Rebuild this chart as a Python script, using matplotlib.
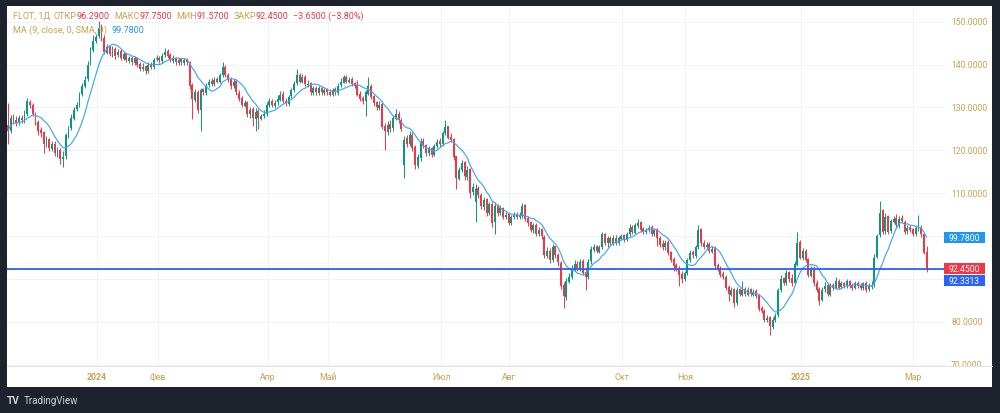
import matplotlib
matplotlib.use('Agg')
import matplotlib.pyplot as plt
import numpy as np
import pandas as pd
from matplotlib.patches import Rectangle
from matplotlib.lines import Line2D
from matplotlib.transforms import blended_transform_factory

plt.rcParams['font.family'] = ['Roboto', 'DejaVu Sans']

# ---------------- data (daily candles) ----------------
OPEN = [
 126.0,124.5,127.8,127.2,126.4,127.6,127.0,128.4,131.2,130.6,
 128.6,126.6,124.8,124.2,121.4,122.6,120.4,121.6,119.4,120.2,
 118.0,118.6,123.4,125.2,127.4,129.6,130.6,133.2,135.0,136.6,
 140.2,143.4,145.6,146.6,148.6,146.2,142.8,144.2,142.4,143.6,
 142.2,143.2,141.4,142.6,140.8,141.6,140.4,141.6,140.2,139.0,
 139.6,138.4,140.2,139.4,141.2,141.6,140.8,142.2,143.2,142.2,
 140.8,141.6,140.4,141.2,140.4,141.2,140.6,135.2,131.8,133.6,
 129.4,134.2,133.4,135.2,136.2,135.4,136.6,136.0,137.6,139.4,
 137.6,136.6,135.0,136.2,133.4,132.2,130.4,131.2,128.4,129.6,
 127.4,129.2,127.4,128.0,128.4,130.6,131.6,130.4,131.2,131.8,
 133.2,131.6,130.8,132.6,134.0,135.6,137.6,136.0,137.2,135.2,
 135.6,133.4,134.6,133.4,134.6,133.4,134.2,133.6,132.8,134.2,
 133.4,135.2,135.8,137.2,136.0,136.6,135.6,135.2,133.2,132.2,
 131.4,133.2,135.0,132.6,131.2,129.8,130.8,125.8,124.4,126.2,
 125.2,127.4,128.6,127.2,116.5,122.8,121.4,123.6,120.8,116.4,
 118.2,122.2,121.2,119.4,120.6,119.0,121.0,122.2,121.4,124.0,
 125.6,123.2,122.6,118.6,113.4,115.4,117.2,113.8,115.6,110.2,
 108.0,111.2,109.6,106.8,108.6,105.4,107.6,103.2,107.2,105.4,
 106.6,104.4,105.2,103.0,104.4,105.2,104.4,104.6,107.2,104.2,
 103.2,101.4,102.6,100.4,101.6,99.8,95.4,96.6,94.4,97.6,
 95.6,93.8,88.6,85.8,89.4,90.6,92.4,93.6,92.4,94.2,
 91.6,90.4,94.2,96.8,97.6,96.4,97.4,100.6,98.4,99.6,
 98.4,99.6,98.4,99.4,100.2,99.0,100.4,102.2,100.8,102.4,
 103.2,101.6,101.0,101.4,102.2,100.4,101.6,99.6,98.2,97.4,
 98.6,96.2,94.6,93.2,92.4,91.2,90.0,91.4,94.4,96.2,
 95.4,97.4,101.6,98.4,97.4,98.2,96.4,97.2,93.2,92.6,
 91.2,90.6,88.2,86.4,87.6,84.4,87.6,86.4,87.6,86.4,
 87.6,86.4,87.2,86.2,83.2,82.6,80.4,81.2,78.8,80.4,
 81.6,87.4,90.2,89.0,91.6,90.2,89.2,93.4,98.6,94.8,
 96.6,94.6,90.8,92.6,89.2,87.8,85.2,87.6,88.6,86.4,
 88.6,88.0,89.6,88.2,89.0,88.4,89.6,88.6,88.0,89.2,
 88.6,88.0,89.2,87.6,88.2,88.6,95.2,100.2,106.0,101.2,
 104.6,101.2,103.4,104.2,102.4,104.2,103.4,101.2,102.2,101.6,
 100.4,101.8,102.2,100.4,96.29]
HIGH = [
 131.0,128.2,128.6,128.0,128.3,128.2,129.5,132.2,131.8,131.0,
 129.0,127.2,125.5,124.6,123.3,123.0,122.3,122.2,120.8,120.6,
 119.8,124.0,125.8,128.4,130.0,131.2,133.6,135.8,137.4,140.8,
 144.2,146.8,147.2,150.2,149.5,146.8,144.8,144.6,144.4,144.0,
 143.6,143.6,143.0,142.8,142.0,142.0,142.0,141.8,140.6,140.4,
 140.0,140.6,140.6,141.6,142.2,142.0,142.6,143.8,143.6,142.6,
 142.2,141.8,141.6,141.6,141.6,141.6,140.8,135.6,134.4,134.0,
 134.6,134.6,135.6,136.6,136.8,137.0,137.2,138.0,140.6,139.8,
 138.0,137.0,136.6,136.6,134.0,132.6,131.8,131.6,130.2,130.0,
 129.8,129.6,128.6,129.4,131.2,132.2,132.0,131.8,132.8,133.8,
 133.8,132.2,133.0,134.6,136.2,139.0,138.0,137.8,137.6,136.4,
 136.0,135.0,135.0,135.0,135.0,134.6,134.6,134.2,134.6,134.8,
 135.6,136.8,137.6,137.6,137.0,137.0,136.0,136.5,133.8,132.6,
 134.0,137.0,135.4,133.0,131.6,131.4,131.4,126.4,126.8,127.0,
 128.2,129.6,129.2,127.6,123.4,123.6,124.6,124.2,121.2,119.2,
 123.0,122.8,121.6,121.0,120.8,121.6,122.6,123.0,124.6,127.0,
 125.8,124.0,123.0,118.8,116.2,117.8,117.6,116.4,116.0,112.4,
 112.2,111.6,110.0,109.2,108.8,108.0,108.0,108.0,107.6,107.2,
 106.8,105.6,105.6,105.0,105.6,105.6,105.6,107.8,107.6,104.6,
 103.6,103.0,103.0,102.2,101.8,100.2,97.4,97.2,98.2,97.8,
 96.0,94.2,89.4,90.2,91.4,93.4,94.4,94.2,94.6,94.6,
 92.4,94.6,97.6,98.2,98.0,98.0,101.0,100.8,100.0,100.0,
 100.2,100.2,100.0,100.6,100.6,101.0,102.8,102.6,103.0,104.0,
 103.6,102.2,102.0,102.6,102.6,102.0,102.0,100.0,99.0,99.2,
 99.0,96.6,95.2,93.8,93.0,91.8,92.0,95.0,96.8,96.8,
 98.0,102.5,101.8,99.0,98.6,98.6,97.8,97.6,93.8,93.0,
 92.0,91.0,88.6,88.2,88.0,88.2,88.0,89.6,88.2,88.2,
 88.0,87.6,87.6,86.4,83.8,83.0,81.6,81.4,81.2,82.0,
 88.0,91.0,90.6,92.2,92.0,91.2,94.2,101.0,99.2,97.2,
 97.0,95.0,93.0,93.0,89.8,88.2,88.2,89.4,89.2,89.0,
 89.2,90.6,90.0,89.6,89.4,90.0,89.8,89.2,89.6,89.6,
 89.0,89.4,89.6,89.0,89.6,95.8,100.6,108.2,106.4,105.4,
 105.0,104.0,104.6,105.2,104.6,105.0,103.8,102.6,102.6,102.0,
 102.6,105.0,102.6,100.8,97.75]
LOW = [
 121.5,124.0,126.2,125.8,125.9,126.3,126.5,128.0,129.8,128.0,
 126.0,123.6,123.2,119.5,120.8,119.8,119.9,118.6,118.5,116.8,
 116.2,118.0,122.8,124.8,127.0,129.2,130.0,132.6,134.6,136.2,
 139.8,143.0,145.0,146.2,145.6,142.4,142.5,142.0,141.8,141.4,
 141.8,141.0,141.0,140.6,140.4,140.0,140.0,139.4,138.4,138.6,
 137.8,138.0,139.0,139.0,140.8,140.4,140.4,141.8,141.6,140.6,
 140.4,140.0,140.0,139.8,140.0,139.8,134.4,127.3,131.2,128.8,
 124.5,133.0,133.0,134.8,135.0,135.0,135.6,135.6,137.2,137.0,
 136.0,134.4,134.6,133.0,131.4,130.0,130.0,127.8,127.6,125.8,
 124.5,125.0,127.0,127.6,128.0,130.0,130.0,129.8,130.6,131.4,
 131.0,130.4,130.4,132.2,133.6,135.2,135.6,135.6,135.0,134.8,
 133.0,133.0,133.0,133.0,133.0,133.0,133.0,132.6,132.6,133.0,
 133.0,134.8,135.6,135.6,135.6,135.0,134.6,132.6,131.4,130.8,
 128.0,132.8,132.0,130.4,129.4,129.4,125.0,120.0,123.6,124.4,
 124.6,127.0,126.4,124.6,113.5,120.8,121.0,119.8,115.6,115.8,
 117.6,120.6,118.8,118.8,118.4,118.6,120.6,120.8,121.0,123.6,
 122.6,122.0,117.8,111.0,113.0,115.0,113.0,113.2,108.8,109.6,
 103.3,108.8,106.4,106.2,104.8,105.0,102.2,100.6,104.8,105.0,
 104.0,104.0,102.6,102.6,104.0,104.0,104.0,104.2,103.6,102.4,
 101.0,100.8,100.0,100.0,99.4,94.8,94.8,93.8,94.0,95.0,
 93.0,87.6,83.3,85.2,89.0,90.0,92.0,91.8,92.0,91.0,
 87.5,90.0,93.6,96.4,96.0,96.0,97.0,98.0,97.4,98.0,
 98.0,98.0,98.0,99.0,98.6,98.8,100.0,100.6,100.4,102.0,
 101.0,100.6,100.6,101.0,100.0,100.0,97.6,97.4,96.8,96.8,
 95.6,94.0,92.0,91.8,88.3,89.2,89.6,91.0,94.0,95.0,
 95.0,97.0,97.8,97.0,97.0,96.0,96.0,92.4,91.8,90.4,
 90.0,87.4,85.0,86.0,83.5,84.0,86.0,86.0,86.0,86.0,
 86.0,86.0,85.6,82.6,82.0,80.0,80.0,77.0,78.4,80.0,
 81.2,87.0,88.6,88.6,89.4,88.4,88.8,93.0,94.6,94.4,
 94.0,90.4,90.4,88.4,87.0,84.0,84.8,87.0,86.0,86.0,
 87.4,87.6,87.6,87.6,88.0,88.0,88.0,87.4,87.6,88.0,
 87.4,87.4,87.0,87.2,87.6,88.2,94.8,99.8,100.4,100.6,
 100.6,100.8,103.0,102.0,102.0,103.0,100.4,100.6,101.0,100.0,
 100.0,101.2,99.8,95.8,91.57]
CLOSE = [
 124.5,127.5,127.0,126.5,127.5,127.0,128.5,131.5,130.5,128.5,
 126.5,124.5,124.0,121.5,122.5,120.5,121.5,119.5,120.0,118.0,
 118.5,123.5,125.0,127.5,129.5,130.5,133.0,135.0,136.5,140.0,
 143.5,145.5,146.5,148.5,146.0,143.0,144.0,142.5,143.5,142.0,
 143.0,141.5,142.5,141.0,141.5,140.5,141.5,140.0,139.0,139.5,
 138.5,140.0,139.5,141.0,141.5,141.0,142.0,143.0,142.0,141.0,
 141.5,140.5,141.0,140.5,141.0,140.5,135.0,132.0,133.5,129.5,
 134.0,133.5,135.0,136.0,135.5,136.5,136.0,137.5,139.5,137.5,
 136.5,135.0,136.0,133.5,132.0,130.5,131.0,128.5,129.5,127.5,
 129.0,127.5,128.0,128.5,130.5,131.5,130.5,131.0,132.0,133.0,
 131.5,131.0,132.5,134.0,135.5,137.5,136.0,137.0,135.5,135.5,
 133.5,134.5,133.5,134.5,133.5,134.0,133.5,133.0,134.0,133.5,
 135.0,136.0,137.0,136.0,136.5,135.5,135.0,133.0,132.0,131.5,
 133.5,135.0,132.5,131.0,130.0,130.5,125.5,124.5,126.0,125.0,
 127.5,128.5,127.0,125.0,122.5,121.5,123.5,120.5,116.5,118.5,
 122.0,121.0,119.5,120.5,119.0,121.0,122.0,121.5,124.0,125.5,
 123.0,122.5,118.5,113.5,115.5,117.0,114.0,115.5,110.0,111.5,
 111.0,109.5,107.0,108.5,105.5,107.5,103.0,107.0,105.5,106.5,
 104.5,105.0,103.0,104.5,105.0,104.5,105.0,107.0,104.0,103.0,
 101.5,102.5,100.5,101.5,100.0,95.5,96.5,94.5,97.5,95.5,
 94.0,88.5,86.0,89.5,90.5,92.5,93.5,92.5,94.0,91.5,
 90.5,94.0,97.0,97.5,96.5,97.5,100.5,98.5,99.5,98.5,
 99.5,98.5,99.5,100.0,99.0,100.5,102.0,101.0,102.5,103.0,
 101.5,101.0,101.5,102.0,100.5,101.5,99.5,98.0,97.5,98.5,
 96.0,94.5,93.0,92.5,91.0,90.0,91.5,94.5,96.0,95.5,
 97.5,101.5,98.5,97.5,98.0,96.5,97.0,93.0,92.5,91.0,
 90.5,88.0,86.5,87.5,84.5,87.5,86.5,87.5,86.5,87.5,
 86.5,87.0,86.0,83.0,82.5,80.5,81.0,79.0,80.5,81.5,
 87.5,90.0,89.0,91.5,90.0,89.0,93.5,98.5,95.0,96.5,
 94.5,91.0,92.5,89.0,87.5,85.0,87.5,88.5,86.5,88.5,
 88.0,89.5,88.0,89.0,88.5,89.5,88.5,88.0,89.0,88.5,
 88.0,89.0,87.5,88.5,88.5,95.0,100.0,105.5,101.0,104.5,
 101.0,103.5,104.0,102.5,104.0,103.5,101.0,102.0,101.5,100.5,
 101.97,102.0,100.5,96.10,92.45]

TICK_POS = [32.4, 54.5, 94.5, 116.4, 157.5, 182.2, 223.3, 246.2, 288.4, 329.1]
TICK_LABELS = ['2024', 'Фев', 'Апр', 'Май', 'Июл', 'Авг', 'Окт', 'Ноя', '2025', 'Мар']
YEAR_LABELS = ['2024', '2025']
Y_TICKS = [70, 80, 90, 100, 110, 120, 130, 140, 150]
HLINE = 92.3313
SYMBOL = 'FLOT, 1Д'
MA_LEN = 9

# ---------------- style ----------------
BG = '#1e222d'
GOLD = '#c9a24f'
RED = '#f23645'
GREEN = '#089981'
MA_COL = '#42a5f5'
HL_COL = '#2962ff'
GRID = '#f0f3fa'

W, H = 1000, 414
def fx(px): return px / W
def fy(py): return 1 - py / H

fig = plt.figure(figsize=(W / 100, H / 100), dpi=100, facecolor=BG)
fig.add_artist(Rectangle((fx(7), fy(388)), fx(992) - fx(7), fy(7) - fy(388),
                         transform=fig.transFigure, facecolor='white', edgecolor='none', zorder=0))

YMIN, YMAX = 69.74, 153.66
ax = fig.add_axes([fx(7), fy(367), fx(945) - fx(7), fy(7) - fy(367)])
ax.set_facecolor('white')
ax.set_xlim(-0.36, 340.7)
ax.set_ylim(YMIN, YMAX)
for s in ax.spines.values():
    s.set_visible(False)
ax.set_xticks([]); ax.set_yticks([])

for yv in Y_TICKS:
    ax.axhline(yv, color=GRID, lw=0.8, zorder=0)
for xv in TICK_POS:
    ax.axvline(xv, color=GRID, lw=0.8, zorder=0)

o = np.array(OPEN); h = np.array(HIGH); l = np.array(LOW); c = np.array(CLOSE)
idx = np.arange(len(c))
cols = np.where(c >= o, GREEN, RED)
ax.vlines(idx, l, h, colors=cols, linewidth=0.7, zorder=2)
ax.bar(idx, np.maximum(np.abs(c - o), 0.18), bottom=np.minimum(o, c), width=0.72,
       color=cols, linewidth=0, zorder=3)

ma = pd.Series(c).rolling(MA_LEN, min_periods=1).mean().values
ax.plot(idx, ma, color=MA_COL, lw=0.85, zorder=4)

ax.axhline(c[-1], color=RED, lw=0.7, ls=(0, (1, 1.5)), zorder=4)
ax.axhline(HLINE, color=HL_COL, lw=1.3, zorder=5)

# time axis labels
trans = blended_transform_factory(ax.transData, ax.transAxes)
for p, lab in zip(TICK_POS, TICK_LABELS):
    ax.text(p, -10.3 / 360, lab, transform=trans, ha='center', va='center',
            fontsize=6.3, color=GOLD, fontweight='bold' if lab in YEAR_LABELS else 'normal',
            clip_on=False)

# separator line above time axis
fig.add_artist(Line2D([fx(7), fx(992)], [fy(367.3), fy(367.3)], transform=fig.transFigure,
                      color='#e0e3eb', lw=0.8))

# price scale
pax = fig.add_axes([fx(943), fy(367), fx(992) - fx(943), fy(7) - fy(367)])
pax.set_xlim(943, 992)
pax.set_ylim(YMIN, YMAX)
pax.axis('off')

PX_PER_UNIT = 360 / (YMAX - YMIN)
box_h = 10.8 / PX_PER_UNIT
boxes = [(ma[-1], f'{ma[-1]:.4f}', '#2196f3'),
         (c[-1], f'{c[-1]:.4f}', RED),
         (c[-1] - 12 / PX_PER_UNIT, f'{HLINE:.4f}', HL_COL)]

for yv in Y_TICKS:
    if any(abs(yv - b[0]) < box_h * 1.05 for b in boxes):
        continue  # hidden behind a price label, as in TradingView
    pax.text(951, yv, f'{yv:.4f}', ha='left', va='center', fontsize=6.2, color=GOLD, clip_on=True)

for yc, text, fc in boxes:
    pax.add_patch(Rectangle((944, yc - box_h / 2), 41, box_h, facecolor=fc, edgecolor='none', zorder=5))
    pax.text(964.5, yc, text, ha='center', va='center', fontsize=6.2, color='white', zorder=6)

# header
chg = c[-1] - c[-2]
pct = chg / c[-2] * 100
fig.canvas.draw()
rend = fig.canvas.get_renderer()
def chain(x0, ycen, parts, size=6.5):
    x = x0
    for txt, col, gap in parts:
        x += gap
        t = fig.text(fx(x), fy(ycen), txt, ha='left', va='center', fontsize=size, color=col)
        bb = t.get_window_extent(rend)
        x = x + bb.width
    return x

def fmt(v):
    return f'{v:.4f}'.replace('-', '−')

chain(12.7, 16.3, [
    (SYMBOL, GOLD, 0), ('ОТКР', GOLD, 4), (fmt(o[-1]), RED, 0),
    ('МАКС', GOLD, 4), (fmt(h[-1]), RED, 0),
    ('МИН', GOLD, 4), (fmt(l[-1]), RED, 0),
    ('ЗАКР', GOLD, 4), (fmt(c[-1]), RED, 0),
    (f'{fmt(chg)} ({pct:.2f}%)'.replace('-', '−'), RED, 4.5),
])
chain(12.7, 30.7, [
    (f'MA ({MA_LEN}, close, 0, SMA, {MA_LEN})', GOLD, 0),
    (f'{ma[-1]:.4f}', '#2196f3', 4.5),
])

# TradingView logo
fig.text(fx(7), fy(401), 'TV', ha='left', va='center', fontsize=7.2, color='#d1d4dc', fontweight='bold')
fig.text(fx(24), fy(401), 'TradingView', ha='left', va='center', fontsize=7, color='#d1d4dc')

fig.savefig('out.png', dpi=100, facecolor=BG)
